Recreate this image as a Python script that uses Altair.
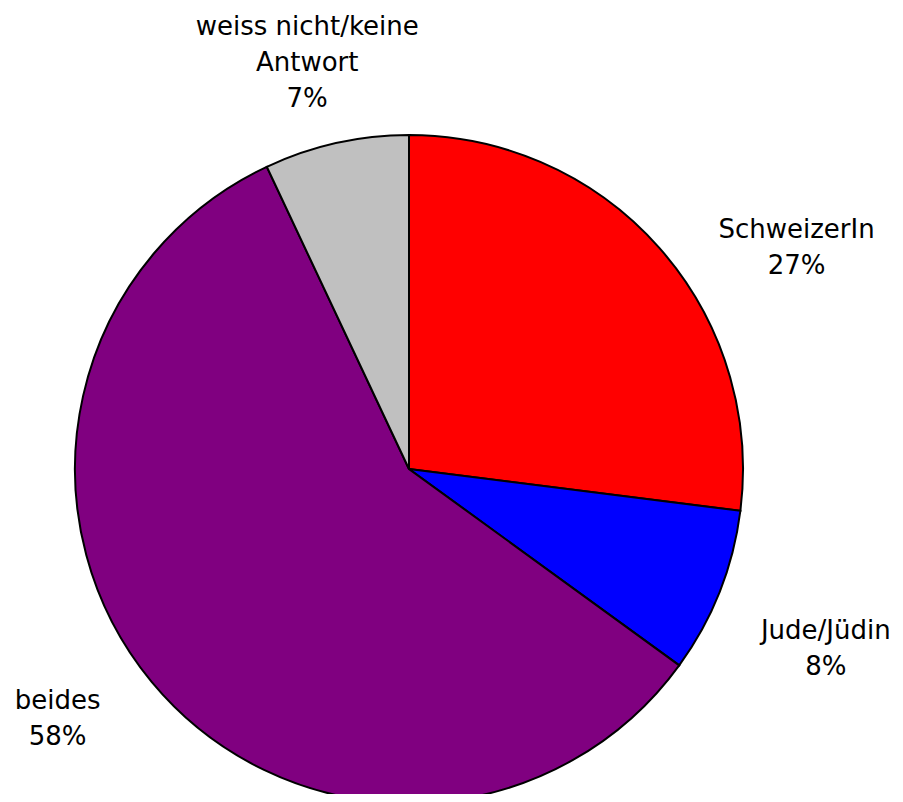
import math
import altair as alt
import pandas as pd

categories = ["SchweizerIn", "Jude/Jüdin", "beides", "weiss nicht/keine Antwort"]
label_lines = ["SchweizerIn", "Jude/Jüdin", "beides", "weiss nicht/keine\nAntwort"]
values = [27, 8, 58, 7]
colors = ["#FF0000", "#0000FF", "#800080", "#C0C0C0"]

# label nudges (dx, dy) in pixels, styling only
nudges = {
    "SchweizerIn": (65, 45),
    "Jude/Jüdin": (17, 4),
    "beides": (-20, -42),
    "weiss nicht/keine Antwort": (-8, -22),
}

df = pd.DataFrame({
    "cat": categories,
    "value": values,
    "order": list(range(len(categories))),
    "label": [f"{l}\n{v}%" for l, v in zip(label_lines, values)],
})

CX, CY, R, RL = 401, 461, 334, 430
theta_scale = alt.Scale(domain=[0, 100], range=[0, 2 * math.pi])

pie = alt.Chart(df).mark_arc(
    outerRadius=R, stroke="black", strokeWidth=2
).encode(
    theta=alt.Theta("value:Q", stack=True, scale=theta_scale),
    order=alt.Order("order:Q"),
    color=alt.Color("cat:N", scale=alt.Scale(domain=categories, range=colors), legend=None),
    x=alt.value(CX),
    y=alt.value(CY),
)

lab = alt.Chart(df).transform_window(
    cum="sum(value)", sort=[alt.SortField("order")]
).transform_calculate(mid="datum.cum - datum.value / 2")

layers = [pie]
for cat in categories:
    dx, dy = nudges[cat]
    layers.append(
        lab.transform_filter(alt.datum.cat == cat).mark_text(
            font="DejaVu Sans", fontSize=26, lineBreak="\n", lineHeight=36,
            align="center", baseline="middle", color="black", dx=dx, dy=dy,
        ).encode(
            theta=alt.Theta("mid:Q", stack=None, scale=theta_scale),
            radius=alt.value(RL),
            x=alt.value(CX),
            y=alt.value(CY),
            text="label:N",
        )
    )

chart = alt.layer(*layers).properties(
    width=887, height=786, autosize=alt.AutoSizeParams(type="none"), padding=0,
    background="white",
).configure_view(stroke=None)

chart.save("out.html", embed_options={"renderer": "svg", "actions": False})
